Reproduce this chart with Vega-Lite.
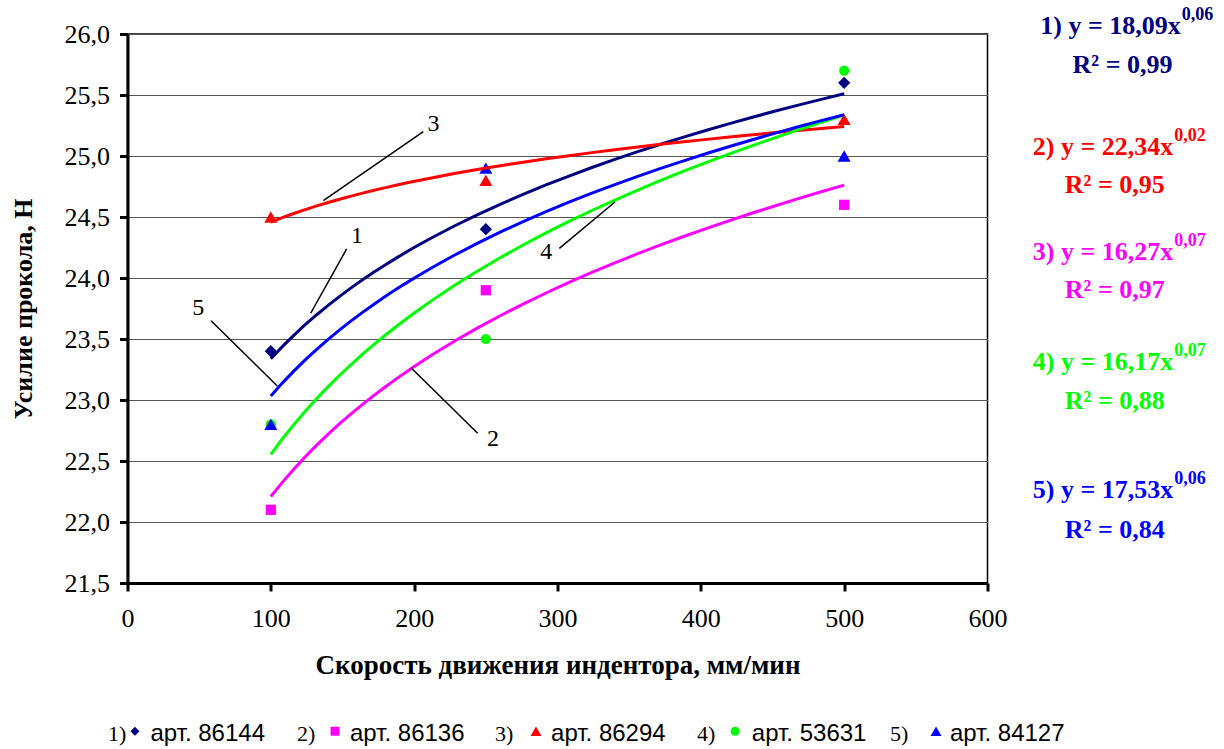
{
  "$schema": "https://vega.github.io/schema/vega-lite/v6.json",
  "width": 860,
  "height": 549,
  "autosize": {"type": "none"},
  "padding": {"left": 127.5, "top": 34, "right": 236.5, "bottom": 166},
  "background": "white",
  "config": {
    "font": "Liberation Serif",
    "view": {"stroke": "#000", "strokeWidth": 1.5},
    "axis": {"labelFont": "Liberation Serif", "titleFont": "Liberation Serif"},
    "text": {"font": "Liberation Serif"}
  },
  "datasets": {
    "points": [
      {"series": "1", "art": "86144", "x": 100, "y": 23.4},
      {"series": "1", "art": "86144", "x": 250, "y": 24.4},
      {"series": "1", "art": "86144", "x": 500, "y": 25.6},
      {"series": "2", "art": "86136", "x": 100, "y": 22.1},
      {"series": "2", "art": "86136", "x": 250, "y": 23.9},
      {"series": "2", "art": "86136", "x": 500, "y": 24.6},
      {"series": "3", "art": "86294", "x": 100, "y": 24.5},
      {"series": "3", "art": "86294", "x": 250, "y": 24.8},
      {"series": "3", "art": "86294", "x": 500, "y": 25.3},
      {"series": "4", "art": "53631", "x": 100, "y": 22.8},
      {"series": "4", "art": "53631", "x": 250, "y": 23.5},
      {"series": "4", "art": "53631", "x": 500, "y": 25.7},
      {"series": "5", "art": "84127", "x": 100, "y": 22.8},
      {"series": "5", "art": "84127", "x": 250, "y": 24.9},
      {"series": "5", "art": "84127", "x": 500, "y": 25.0}
    ],
    "leaders": [
      {"series": "3", "x": 206.4, "y": 25.199, "x2": 136.6, "y2": 24.634},
      {"series": "1", "x": 152.9, "y": 24.238, "x2": 127.8, "y2": 23.711},
      {"series": "5", "x": 58.3, "y": 23.65, "x2": 104.5, "y2": 23.115},
      {"series": "4", "x": 301.3, "y": 24.243, "x2": 340.1, "y2": 24.623},
      {"series": "2", "x": 244.3, "y": 22.727, "x2": 197.8, "y2": 23.265}
    ],
    "leaderLabels": [
      {"text": "3", "x": 213.5, "y": 25.26},
      {"text": "1", "x": 160.1, "y": 24.348},
      {"text": "5", "x": 49.4, "y": 23.752},
      {"text": "4", "x": 292.2, "y": 24.216},
      {"text": "2", "x": 255.0, "y": 22.68}
    ],
    "notes": [
      {"kind": "eq", "series": "1", "x": 734.8, "y": 26.0, "text": "1) y = 18,09x"},
      {"kind": "exp", "series": "1", "x": 734.8, "y": 26.0, "text": "0,06"},
      {"kind": "r2", "series": "1", "x": 694.2, "y": 25.68, "text": "R² = 0,99"},
      {"kind": "eq", "series": "3", "x": 729.6, "y": 25.008, "text": "2) y = 22,34x"},
      {"kind": "exp", "series": "3", "x": 729.6, "y": 25.008, "text": "0,02"},
      {"kind": "r2", "series": "3", "x": 688.8, "y": 24.697, "text": "R² = 0,95"},
      {"kind": "eq", "series": "2", "x": 729.6, "y": 24.148, "text": "3) y = 16,27x"},
      {"kind": "exp", "series": "2", "x": 729.6, "y": 24.148, "text": "0,07"},
      {"kind": "r2", "series": "2", "x": 688.8, "y": 23.836, "text": "R² = 0,97"},
      {"kind": "eq", "series": "4", "x": 729.6, "y": 23.246, "text": "4) y = 16,17x"},
      {"kind": "exp", "series": "4", "x": 729.6, "y": 23.246, "text": "0,07"},
      {"kind": "r2", "series": "4", "x": 688.8, "y": 22.926, "text": "R² = 0,88"},
      {"kind": "eq", "series": "5", "x": 729.6, "y": 22.197, "text": "5) y = 17,53x"},
      {"kind": "exp", "series": "5", "x": 729.6, "y": 22.197, "text": "0,06"},
      {"kind": "r2", "series": "5", "x": 688.8, "y": 21.869, "text": "R² = 0,84"}
    ],
    "legend": [
      {"kind": "num", "series": "1", "x": -13.6, "y": 20.205, "text": "1)"},
      {"kind": "sym", "series": "1", "x": 5.2, "y": 20.285, "text": ""},
      {"kind": "art", "series": "1", "x": 16.0, "y": 20.205, "text": "арт. 86144"},
      {"kind": "num", "series": "2", "x": 118.3, "y": 20.205, "text": "2)"},
      {"kind": "sym", "series": "2", "x": 144.8, "y": 20.285, "text": ""},
      {"kind": "art", "series": "2", "x": 155.2, "y": 20.205, "text": "арт. 86136"},
      {"kind": "num", "series": "3", "x": 256.4, "y": 20.205, "text": "3)"},
      {"kind": "sym", "series": "3", "x": 285.0, "y": 20.285, "text": ""},
      {"kind": "art", "series": "3", "x": 295.5, "y": 20.205, "text": "арт. 86294"},
      {"kind": "num", "series": "4", "x": 397.3, "y": 20.205, "text": "4)"},
      {"kind": "sym", "series": "4", "x": 423.9, "y": 20.285, "text": ""},
      {"kind": "art", "series": "4", "x": 435.6, "y": 20.205, "text": "арт. 53631"},
      {"kind": "num", "series": "5", "x": 532.0, "y": 20.205, "text": "5)"},
      {"kind": "sym", "series": "5", "x": 564.1, "y": 20.285, "text": ""},
      {"kind": "art", "series": "5", "x": 573.8, "y": 20.205, "text": "арт. 84127"}
    ]
  },
  "encoding": {
    "x": {
      "field": "x",
      "type": "quantitative",
      "scale": {"domain": [0, 600], "nice": false, "zero": false},
      "axis": {
        "title": "Скорость движения индентора, мм/мин",
        "values": [0, 100, 200, 300, 400, 500, 600],
        "grid": false,
        "labelFont": "Liberation Serif",
        "labelFontSize": 26,
        "labelColor": "#000",
        "labelPadding": 14,
        "labelFlush": false,
        "labelOverlap": false,
        "tickColor": "#000",
        "tickWidth": 3,
        "tickSize": 8,
        "domainColor": "#000",
        "domainWidth": 3,
        "titleFont": "Liberation Serif",
        "titleFontSize": 27,
        "titleFontWeight": "bold",
        "titleColor": "#000",
        "titlePadding": 21
      }
    },
    "y": {
      "field": "y",
      "type": "quantitative",
      "scale": {"domain": [21.5, 26], "nice": false, "zero": false},
      "axis": {
        "title": "Усилие прокола, Н",
        "values": [21.5, 22, 22.5, 23, 23.5, 24, 24.5, 25, 25.5, 26],
        "labelExpr": "replace(format(datum.value, '.1f'), '.', ',')",
        "grid": true,
        "gridColor": "#555",
        "gridWidth": 1,
        "labelFont": "Liberation Serif",
        "labelFontSize": 26,
        "labelColor": "#000",
        "labelPadding": 10,
        "labelFlush": false,
        "labelOverlap": false,
        "tickColor": "#000",
        "tickWidth": 3,
        "tickSize": 8,
        "domainColor": "#000",
        "domainWidth": 3,
        "titleFont": "Liberation Serif",
        "titleFontSize": 26,
        "titleFontWeight": "bold",
        "titleColor": "#000",
        "titlePadding": 28
      }
    }
  },
  "layer": [
    {
      "data": {"name": "points"},
      "transform": [{"filter": "datum.series === '1'"}],
      "mark": {"type": "point", "filled": true, "opacity": 1, "size": 150},
      "encoding": {
        "color": {
          "field": "series",
          "type": "nominal",
          "scale": {"domain": ["1", "2", "3", "4", "5"], "range": ["#000080", "#FF00FF", "#FF0000", "#00FF00", "#0000FF"]},
          "legend": null
        },
        "shape": {
          "field": "series",
          "type": "nominal",
          "scale": {"domain": ["1", "2", "3", "4", "5"], "range": ["diamond", "square", "triangle-up", "circle", "triangle-up"]},
          "legend": null
        }
      }
    },
    {
      "data": {"name": "points"},
      "transform": [{"filter": "datum.series === '2' || datum.series === '4'"}],
      "mark": {"type": "point", "filled": true, "opacity": 1, "size": 105},
      "encoding": {
        "color": {"field": "series", "type": "nominal", "legend": null},
        "shape": {"field": "series", "type": "nominal", "legend": null}
      }
    },
    {
      "data": {"name": "points"},
      "transform": [{"filter": "datum.series === '3' || datum.series === '5'"}],
      "mark": {"type": "point", "filled": true, "opacity": 1, "size": 170},
      "encoding": {
        "color": {"field": "series", "type": "nominal", "legend": null},
        "shape": {"field": "series", "type": "nominal", "legend": null}
      }
    },
    {
      "data": {"name": "points"},
      "transform": [
        {"regression": "y", "on": "x", "groupby": ["series"], "method": "pow", "extent": [100, 500]}
      ],
      "mark": {"type": "line", "strokeWidth": 3},
      "encoding": {
        "color": {"field": "series", "type": "nominal", "legend": null}
      }
    },
    {
      "data": {"name": "leaders"},
      "mark": {"type": "rule", "color": "#000", "strokeWidth": 1.5},
      "encoding": {
        "x2": {"field": "x2"},
        "y2": {"field": "y2"}
      }
    },
    {
      "data": {"name": "leaderLabels"},
      "mark": {"type": "text", "font": "Liberation Serif", "fontSize": 24, "color": "#000", "align": "center", "baseline": "middle"},
      "encoding": {"text": {"field": "text"}}
    },
    {
      "data": {"name": "notes"},
      "transform": [{"filter": "datum.kind === 'eq'"}],
      "mark": {"type": "text", "font": "Liberation Serif", "fontSize": 26, "fontWeight": "bold", "align": "right", "baseline": "alphabetic"},
      "encoding": {
        "text": {"field": "text"},
        "color": {"field": "series", "type": "nominal", "legend": null}
      }
    },
    {
      "data": {"name": "notes"},
      "transform": [{"filter": "datum.kind === 'exp'"}],
      "mark": {"type": "text", "font": "Liberation Serif", "fontSize": 18, "fontWeight": "bold", "align": "left", "baseline": "alphabetic", "dx": 1, "dy": -14},
      "encoding": {
        "text": {"field": "text"},
        "color": {"field": "series", "type": "nominal", "legend": null}
      }
    },
    {
      "data": {"name": "notes"},
      "transform": [{"filter": "datum.kind === 'r2'"}],
      "mark": {"type": "text", "font": "Liberation Serif", "fontSize": 26, "fontWeight": "bold", "align": "center", "baseline": "alphabetic"},
      "encoding": {
        "text": {"field": "text"},
        "color": {"field": "series", "type": "nominal", "legend": null}
      }
    },
    {
      "data": {"name": "legend"},
      "transform": [{"filter": "datum.kind === 'num'"}],
      "mark": {"type": "text", "font": "Liberation Serif", "fontSize": 22, "color": "#000", "align": "left", "baseline": "alphabetic"},
      "encoding": {"text": {"field": "text"}}
    },
    {
      "data": {"name": "legend"},
      "transform": [{"filter": "datum.kind === 'art'"}],
      "mark": {"type": "text", "font": "Liberation Sans", "fontSize": 24, "color": "#000", "align": "left", "baseline": "alphabetic"},
      "encoding": {"text": {"field": "text"}}
    },
    {
      "data": {"name": "legend"},
      "transform": [{"filter": "datum.kind === 'sym' && (datum.series === '3' || datum.series === '5')"}],
      "mark": {"type": "point", "filled": true, "opacity": 1, "size": 120},
      "encoding": {
        "color": {"field": "series", "type": "nominal", "legend": null},
        "shape": {"field": "series", "type": "nominal", "legend": null}
      }
    },
    {
      "data": {"name": "legend"},
      "transform": [{"filter": "datum.kind === 'sym' && datum.series !== '3' && datum.series !== '5'"}],
      "mark": {"type": "point", "filled": true, "opacity": 1, "size": 80},
      "encoding": {
        "color": {"field": "series", "type": "nominal", "legend": null},
        "shape": {"field": "series", "type": "nominal", "legend": null}
      }
    }
  ]
}
